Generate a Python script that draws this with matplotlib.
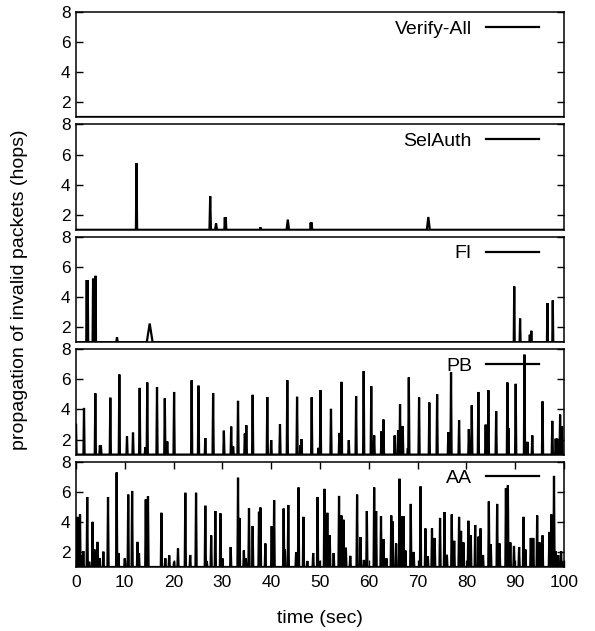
import numpy as np
import matplotlib
matplotlib.use("Agg")
import matplotlib.pyplot as plt

plt.rcParams['font.family'] = ['Liberation Sans', 'DejaVu Sans']

# spike times (sec) and peak heights (hops); baseline is 1 hop
names = ["Verify-All", "SelAuth", "FI", "PB", "AA"]

va_t = []
va_h = []

sa_t = [12.4, 27.5, 28.7, 30.5, 30.7, 37.8, 43.4, 48.1, 48.3, 72.2]
sa_h = [5.42, 3.23, 1.42, 1.83, 1.83, 1.16, 1.68, 1.48, 1.48, 1.85]
sa_w = [0.12, 0.15, 0.2, 0.1, 0.1, 0.15, 0.25, 0.1, 0.1, 0.3]

fi_t = [2.2, 2.4, 3.5, 4.0, 8.4, 15.1, 89.8, 91.0, 93.0, 93.3, 96.6, 97.7]
fi_h = [5.13, 5.13, 5.22, 5.41, 1.33, 2.24, 4.70, 2.57, 1.50, 1.76, 3.60, 3.78]
fi_w = [0.1, 0.1, 0.1, 0.1, 0.15, 0.6, 0.1, 0.1, 0.1, 0.1, 0.1, 0.1]

pb_t = [0.0, 1.64, 3.96, 4.9, 5.1, 7.03, 8.88, 10.45, 11.68, 13.05, 14.2, 14.6, 16.6,
        18.2, 18.7, 20.1, 23.7, 25.1, 26.5, 28.1, 30.3, 31.8, 32.2, 33.2, 34.6, 34.9,
        36.2, 39.2, 40.0, 41.8, 43.3, 45.3, 46.0, 46.2, 48.3, 49.7, 50.1, 52.25, 53.96,
        54.4, 55.9, 57.4, 58.95, 60.5, 61.1, 62.6, 63.0, 65.3, 66.0, 66.4, 66.95, 68.0,
        68.2, 70.3, 72.4, 74.0, 76.3, 76.85, 78.5, 80.5, 81.1, 82.45, 83.95, 84.5, 86.1,
        88.4, 88.6, 90.1, 91.9, 92.5, 93.5, 95.6, 97.6, 98.3, 98.6, 99.2, 99.6]
pb_h = [3.05, 4.10, 5.07, 1.62, 1.62, 4.78, 6.32, 2.21, 2.46, 5.43, 1.50, 5.79, 5.49,
        4.74, 1.87, 5.16, 5.94, 5.58, 2.10, 5.09, 2.59, 2.86, 1.54, 4.57, 2.40, 2.95,
        4.97, 4.82, 1.96, 3.00, 5.94, 4.84, 1.64, 2.02, 4.80, 1.45, 5.28, 4.04, 2.44,
        5.83, 1.96, 4.88, 6.55, 5.54, 2.27, 2.55, 3.33, 2.27, 2.63, 4.34, 2.90, 1.43,
        6.13, 4.80, 4.46, 5.01, 2.50, 6.48, 3.28, 2.70, 4.27, 5.16, 2.99, 5.28, 3.89,
        5.79, 2.76, 5.70, 7.64, 1.85, 2.27, 4.53, 3.24, 2.06, 2.06, 3.66, 2.90]

aa_t = [0.0, 0.27, 0.82, 1.1, 1.5, 2.3, 2.7, 3.4, 3.8, 4.4, 4.8, 5.6, 6.56, 8.33, 8.7,
        10.0, 10.7, 11.5, 12.6, 12.9, 14.3, 14.75, 17.5, 18.3, 19.1, 20.1, 20.9, 22.4,
        23.4, 24.6, 26.5, 26.8, 27.7, 28.55, 29.6, 30.0, 31.7, 33.2, 33.5, 34.4, 34.8,
        35.45, 36.2, 37.5, 37.8, 38.8, 40.1, 40.6, 42.55, 42.8, 43.5, 45.1, 45.6, 46.6,
        47.4, 48.6, 49.5, 49.9, 50.9, 51.5, 52.0, 52.8, 53.9, 54.4, 54.8, 55.3, 56.2,
        57.6, 58.3, 59.0, 59.6, 61.1, 61.5, 62.5, 63.0, 63.6, 64.6, 64.9, 65.6, 66.3,
        66.7, 67.1, 67.5, 68.6, 69.2, 70.6, 71.6, 72.1, 72.95, 73.5, 74.6, 75.5, 76.0,
        77.0, 77.5, 78.5, 78.9, 79.4, 80.4, 80.9, 81.8, 82.5, 82.9, 83.4, 84.6, 85.0,
        86.3, 86.8, 88.1, 88.5, 89.0, 89.75, 90.8, 91.7, 92.1, 93.2, 93.7, 94.5, 95.0,
        95.6, 97.0, 97.4, 97.95, 98.3, 98.8, 99.4, 99.8]
aa_h = [3.00, 4.33, 4.49, 1.80, 2.05, 5.65, 1.35, 4.00, 2.16, 2.67, 1.60, 2.02, 5.65,
        7.28, 1.93, 1.58, 5.81, 6.05, 2.67, 1.93, 5.49, 5.70, 4.60, 1.58, 1.77, 1.35,
        2.23, 5.93, 1.80, 5.93, 5.07, 1.40, 3.10, 4.72, 4.56, 1.58, 2.33, 6.93, 4.26,
        2.10, 1.58, 4.90, 3.72, 4.67, 4.95, 2.56, 3.72, 5.44, 4.88, 2.16, 5.12, 1.98,
        6.28, 4.33, 1.40, 1.93, 5.65, 1.40, 6.19, 4.60, 3.10, 1.93, 5.72, 4.42, 4.14,
        2.28, 1.74, 5.81, 2.98, 1.47, 4.72, 6.28, 4.72, 4.37, 2.86, 1.58, 4.42, 4.02,
        2.56, 6.86, 4.37, 4.37, 2.10, 5.19, 2.00, 6.35, 3.56, 1.70, 3.56, 2.93, 4.26,
        4.65, 1.81, 4.49, 2.74, 4.33, 3.40, 2.63, 4.07, 3.10, 3.79, 3.02, 3.56, 1.80,
        5.35, 2.51, 5.19, 2.56, 6.23, 6.42, 2.63, 2.40, 2.33, 4.33, 2.16, 2.93, 2.93,
        4.42, 2.63, 3.10, 3.33, 4.49, 7.05, 2.05, 1.80, 2.05, 1.35]

x_ticks = list(range(0, 101, 10))
y_ticks = [2, 4, 6, 8]


def series(ts, hs, ws=None, w=0.12):
    if ws is None:
        ws = [w] * len(ts)
    t, v = [-1.0], [1.0]
    for a, b, d in sorted(zip(ts, hs, ws)):
        t += [a - d, a, a + d]
        v += [1.0, b, 1.0]
    t.append(101.0); v.append(1.0)
    return np.array(t), np.array(v)


panels = [series(va_t, va_h), series(sa_t, sa_h, sa_w), series(fi_t, fi_h, fi_w),
          series(pb_t, pb_h), series(aa_t, aa_h)]

W, H = 595, 631
fig = plt.figure(figsize=(W / 100, H / 100), dpi=100)
left, right = 76, 564
top, bottom, gap = 12, 567, 7
ph = (bottom - top - gap * 4) / 5

for i, (name, (t, v)) in enumerate(zip(names, panels)):
    y0 = top + i * (ph + gap)
    ax = fig.add_axes([left / W, 1 - (y0 + ph) / H, (right - left) / W, ph / H])
    ax.plot(t, v, color="black", lw=1.6, label=name, solid_joinstyle="miter")
    ax.set_xlim(0, 100)
    ax.set_ylim(1, 8)
    ax.set_yticks(y_ticks)
    for s in ax.spines.values():
        s.set_linewidth(1.1)
    ax.tick_params(axis="y", direction="in", left=True, right=True, length=5,
                   width=1, labelsize=12.5, pad=4)
    if i == 4:
        ax.set_xticks(x_ticks)
        ax.tick_params(axis="x", direction="in", top=True, bottom=True, length=5,
                       width=1, labelsize=12.5, pad=6)
        ax.set_xlabel("time (sec)", fontsize=14, labelpad=14)
    else:
        ax.set_xticks([])
    ax.legend(loc="upper right", bbox_to_anchor=(1 - 25 / (right - left), 1 - 8 / ph),
              frameon=False, markerfirst=False, fontsize=14, handlelength=2.75,
              handletextpad=0.7, borderpad=0, borderaxespad=0)

fig.text(0.032, 1 - ((top + bottom) / 2) / H, "propagation of invalid packets (hops)",
         rotation=90, ha="center", va="center", fontsize=14)

fig.savefig("out.png", dpi=100)
